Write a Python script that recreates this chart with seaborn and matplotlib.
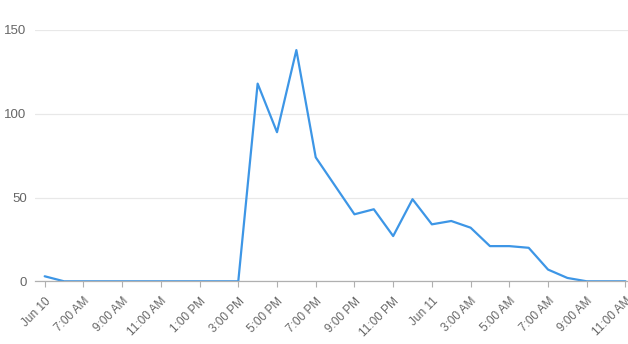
import matplotlib
matplotlib.use("Agg")
import matplotlib.pyplot as plt
import seaborn as sns
import pandas as pd
import numpy as np

# Hourly data from Jun 10 5:00 AM to Jun 11 11:00 AM
hours = list(range(31))
values = [3, 0, 0, 0, 0, 0, 0, 0, 0, 0, 0,
          118, 89, 138, 74, 57, 40, 43, 27, 49, 34, 36, 32,
          21, 21, 20, 7, 2, 0, 0, 0]
tick_positions = [0, 2, 4, 6, 8, 10, 12, 14, 16, 18, 20, 22, 24, 26, 28, 30]
tick_labels = ["Jun 10", "7:00 AM", "9:00 AM", "11:00 AM", "1:00 PM", "3:00 PM",
               "5:00 PM", "7:00 PM", "9:00 PM", "11:00 PM", "Jun 11", "3:00 AM",
               "5:00 AM", "7:00 AM", "9:00 AM", "11:00 AM"]
y_ticks = [0, 50, 100, 150]

df = pd.DataFrame({"hour": hours, "value": values})

sns.set_theme(style="white")
plt.rcParams["font.family"] = ["Liberation Sans", "DejaVu Sans"]

fig = plt.figure(figsize=(6.28, 3.44), dpi=100)
ax = fig.add_axes([35 / 628, 1 - 281.3 / 344, (628 - 35) / 628, (281.3 - 30) / 344])

sns.lineplot(data=df, x="hour", y="value", ax=ax, color="#3d96e6", linewidth=1.6)

ax.set_xlim(-0.5, 30.13)
ax.set_ylim(0, 150)
ax.set_yticks(y_ticks)
ax.set_xticks(tick_positions)
ax.set_xticklabels(tick_labels, rotation=45, ha="right", rotation_mode="anchor")
ax.set_xlabel("")
ax.set_ylabel("")

for s in ["top", "right", "left"]:
    ax.spines[s].set_visible(False)
ax.spines["bottom"].set_color("#b0b0b0")
ax.spines["bottom"].set_linewidth(0.9)

ax.grid(axis="y", color="#e8e8e8", linewidth=0.9)
ax.set_axisbelow(True)
ax.tick_params(axis="y", length=0, pad=6, labelsize=9.5, labelcolor="#666666")
ax.tick_params(axis="x", direction="out", length=4, width=0.8, color="#b0b0b0",
               pad=6, labelsize=8.5, labelcolor="#666666", bottom=True)
for lbl in ax.get_yticklabels():
    lbl.set_clip_on(False)

fig.savefig("out.png", dpi=100)
